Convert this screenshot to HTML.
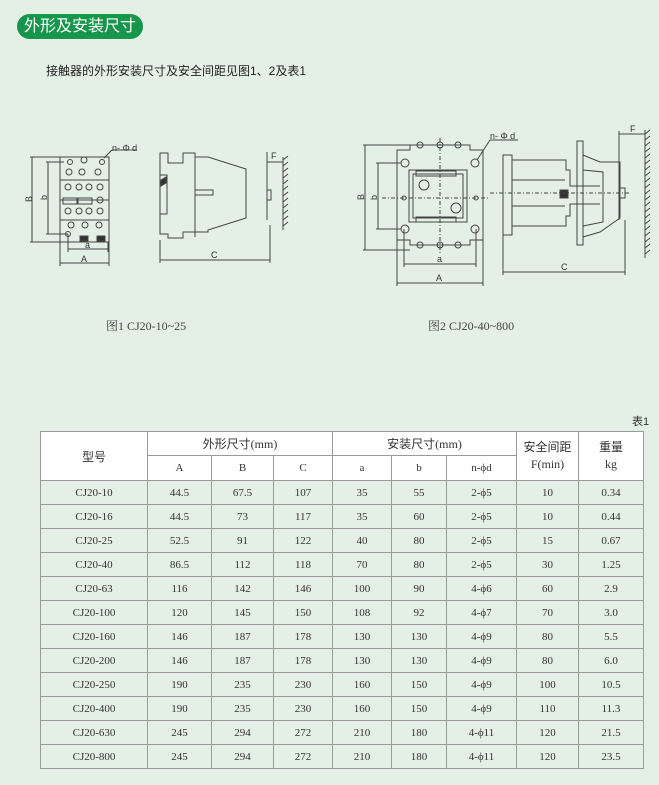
<!DOCTYPE html>
<html><head><meta charset="utf-8"><style>
*{margin:0;padding:0;box-sizing:border-box}
body{width:659px;height:785px;background:#e4f0e6;position:relative;overflow:hidden;font-family:"Liberation Sans","Noto Sans CJK SC",sans-serif;color:#333}
.pill{position:absolute;left:17px;top:14px;width:126px;height:25px;border-radius:13px;background:#16964a;color:#fff;font-size:16px;line-height:25px;text-align:center}
.intro{position:absolute;left:46px;top:62px;font-size:12px;color:#222}
.cap{position:absolute;top:317px;font-family:"Liberation Serif","Noto Serif CJK SC",serif;font-size:12px;color:#444}
svg{position:absolute;left:0;top:0}
table{position:absolute;left:40px;top:431px;border-collapse:collapse;font-family:"Liberation Serif","Noto Sans CJK SC",serif;font-size:11px;color:#333}
td{border:1px solid #9a9a9a;text-align:center;height:24px;padding:0}
.h td{background:#fff}
.t1{position:absolute;left:632px;top:413px;font-size:11px}
</style></head><body>
<div class="pill">外形及安装尺寸</div>
<div class="intro">接触器的外形安装尺寸及安全间距见图1、2及表1</div>
<svg width="659" height="400" viewBox="0 0 659 400" fill="none" stroke="#444" stroke-width="1" font-family="Liberation Sans" font-size="9">
<!-- Fig1 front -->
<rect x="60" y="157" width="49" height="85"/>
<line x1="60" y1="180" x2="109" y2="180"/><line x1="60" y1="200" x2="109" y2="200"/><line x1="60" y1="220" x2="109" y2="220"/>
<g>
<circle cx="70" cy="162" r="2.5"/><circle cx="84" cy="160" r="3"/><circle cx="102" cy="162" r="2.5"/>
<circle cx="69" cy="172" r="3"/><circle cx="82" cy="172" r="3"/><circle cx="98" cy="172" r="3"/>
<circle cx="68" cy="187" r="3"/><circle cx="79" cy="187" r="3"/><circle cx="89" cy="187" r="3"/><circle cx="100" cy="187" r="3"/>
<rect x="63" y="198" width="14" height="6"/><rect x="78" y="198" width="14" height="6"/><circle cx="100" cy="200" r="3"/>
<circle cx="68" cy="211" r="3"/><circle cx="79" cy="211" r="3"/><circle cx="89" cy="211" r="3"/><circle cx="100" cy="211" r="3"/>
<circle cx="71" cy="225" r="3"/><circle cx="85" cy="225" r="3"/><circle cx="99" cy="225" r="3"/>
<circle cx="68" cy="234" r="2.5"/>
</g>
<rect x="80" y="236" width="8" height="5" fill="#333"/><rect x="97" y="236" width="8" height="5" fill="#333"/>
<!-- dims fig1 -->
<line x1="32" y1="157" x2="32" y2="242"/><line x1="30" y1="157" x2="60" y2="157"/><line x1="30" y1="242" x2="60" y2="242"/>
<line x1="48" y1="162" x2="48" y2="234"/><line x1="46" y1="162" x2="64" y2="162"/><line x1="46" y1="234" x2="68" y2="234"/>
<line x1="68" y1="249" x2="108" y2="249"/><line x1="68" y1="234" x2="68" y2="252"/><line x1="108" y1="242" x2="108" y2="252"/>
<line x1="60" y1="263" x2="109" y2="263"/><line x1="60" y1="242" x2="60" y2="266"/><line x1="109" y1="242" x2="109" y2="266"/>
<line x1="104" y1="158" x2="112" y2="150"/><line x1="112" y1="150" x2="137" y2="150"/>
<g fill="#333" stroke="none"><text x="112" y="151">n- Φ d</text><text x="26" y="202" transform="rotate(-90 29 199)">B</text><text x="41" y="200" transform="rotate(-90 44 197)">b</text><text x="85" y="248">a</text><text x="81" y="262">A</text></g>
<!-- Fig1 side -->
<path d="M160 153 H168 V163 H183 V153 H195 V157 H208 L246 169 V218 L208 230 V232 H183 V238 H168 V234 H160 Z"/>
<rect x="160" y="175" width="7" height="39"/><path d="M161 180 L166 177 L166 183 L161 186Z" fill="#333"/>
<line x1="195" y1="157" x2="195" y2="237"/><rect x="195" y="190" width="18" height="5"/>
<rect x="267" y="190" width="4" height="10"/><line x1="267" y1="160" x2="267" y2="220"/>
<line x1="160" y1="260" x2="270" y2="260"/><line x1="160" y1="240" x2="160" y2="263"/><line x1="270" y1="225" x2="270" y2="263"/>
<line x1="283" y1="157" x2="283" y2="230"/>
<path d="M283 160 l5 -4 M283 166 l5 -4 M283 172 l5 -4 M283 178 l5 -4 M283 184 l5 -4 M283 190 l5 -4 M283 196 l5 -4 M283 202 l5 -4 M283 208 l5 -4 M283 214 l5 -4 M283 220 l5 -4 M283 226 l5 -4"/>
<line x1="267" y1="162" x2="283" y2="162"/><line x1="267" y1="152" x2="267" y2="165"/>
<g fill="#333" stroke="none"><text x="211" y="258">C</text><text x="271" y="159">F</text></g>
<!-- Fig2 front -->
<path d="M397 165 V150 H410 V145 H470 V150 H483 V240 H470 V245 H410 V240 H397 Z"/>
<rect x="409" y="170" width="58" height="52"/><rect x="413" y="174" width="50" height="44"/>
<g><circle cx="405" cy="163" r="4"/><circle cx="475" cy="163" r="4"/><circle cx="405" cy="229" r="4"/><circle cx="475" cy="229" r="4"/>
<circle cx="420" cy="145" r="3"/><circle cx="440" cy="145" r="3"/><circle cx="458" cy="145" r="3"/>
<circle cx="420" cy="245" r="3"/><circle cx="440" cy="245" r="3"/><circle cx="458" cy="245" r="3"/>
<circle cx="424" cy="185" r="5"/><circle cx="456" cy="208" r="5"/><circle cx="404" cy="198" r="2"/><circle cx="476" cy="198" r="2"/></g>
<rect x="416" y="171" width="40" height="5"/><rect x="416" y="217" width="40" height="5"/>
<line x1="440" y1="138" x2="440" y2="255" stroke-dasharray="4 2 1 2"/><line x1="382" y1="198" x2="490" y2="198" stroke-dasharray="4 2 1 2"/>
<!-- dims fig2 -->
<line x1="365" y1="145" x2="365" y2="250"/><line x1="363" y1="145" x2="410" y2="145"/><line x1="363" y1="250" x2="410" y2="250"/>
<line x1="378" y1="163" x2="378" y2="229"/><line x1="376" y1="163" x2="401" y2="163"/><line x1="376" y1="229" x2="401" y2="229"/>
<line x1="404" y1="264" x2="476" y2="264"/><line x1="404" y1="229" x2="404" y2="267"/><line x1="476" y1="229" x2="476" y2="267"/>
<line x1="397" y1="283" x2="483" y2="283"/><line x1="397" y1="240" x2="397" y2="286"/><line x1="483" y1="240" x2="483" y2="286"/>
<line x1="477" y1="160" x2="490" y2="140"/><line x1="490" y1="140" x2="518" y2="140"/>
<g fill="#333" stroke="none"><text x="490" y="139">n- Φ d</text><text x="358" y="200" transform="rotate(-90 361 197)">B</text><text x="371" y="200" transform="rotate(-90 374 197)">b</text><text x="437" y="262">a</text><text x="436" y="281">A</text></g>
<!-- Fig2 side -->
<rect x="503" y="155" width="9" height="80"/>
<path d="M512 160 H566 V170 H570 V186 H600 M512 180 H565 M512 206 H565 M512 226 H566 V216 H570 V204 H600"/>
<rect x="577" y="141" width="6" height="104"/>
<path d="M583 155 L600 162 H620 V218 L600 232 L583 237"/>
<path d="M583 170 L603 172 V222 L583 226"/>
<rect x="560" y="190" width="8" height="8" fill="#333"/>
<line x1="490" y1="193" x2="630" y2="193" stroke-dasharray="4 2 1 2"/>
<rect x="620" y="188" width="5" height="10"/><line x1="619" y1="131" x2="619" y2="220"/>
<line x1="645" y1="130" x2="645" y2="258"/>
<path d="M645 134 l5 -4 M645 140 l5 -4 M645 146 l5 -4 M645 152 l5 -4 M645 158 l5 -4 M645 164 l5 -4 M645 170 l5 -4 M645 176 l5 -4 M645 182 l5 -4 M645 188 l5 -4 M645 194 l5 -4 M645 200 l5 -4 M645 206 l5 -4 M645 212 l5 -4 M645 218 l5 -4 M645 224 l5 -4 M645 230 l5 -4 M645 236 l5 -4 M645 242 l5 -4 M645 248 l5 -4 M645 254 l5 -4"/>
<line x1="619" y1="134" x2="645" y2="134"/>
<line x1="503" y1="272" x2="625" y2="272"/><line x1="503" y1="235" x2="503" y2="275"/><line x1="625" y1="220" x2="625" y2="275"/>
<g fill="#333" stroke="none"><text x="561" y="270">C</text><text x="630" y="132">F</text></g>
</svg>
<div class="cap" style="left:106px">图1 CJ20-10~25</div>
<div class="cap" style="left:428px">图2 CJ20-40~800</div>
<div class="t1">表1</div>
<table>
<colgroup><col style="width:107px"><col style="width:64px"><col style="width:62px"><col style="width:59px"><col style="width:59px"><col style="width:55px"><col style="width:70px"><col style="width:62px"><col style="width:65px"></colgroup>
<tr class="h"><td rowspan="2" style="font-size:12px;font-family:'Liberation Sans','Noto Sans CJK SC',sans-serif">型号</td><td colspan="3" style="height:22px;font-size:12px">外形尺寸(mm)</td><td colspan="3" style="font-size:12px">安装尺寸(mm)</td><td rowspan="2" style="font-size:12px;line-height:17px">安全间距<br>F(min)</td><td rowspan="2" style="font-size:12px;line-height:17px">重量<br>kg</td></tr>
<tr class="h"><td style="height:25px">A</td><td>B</td><td>C</td><td>a</td><td>b</td><td>n-ϕd</td></tr>
<tr><td>CJ20-10</td><td>44.5</td><td>67.5</td><td>107</td><td>35</td><td>55</td><td>2-ϕ5</td><td>10</td><td>0.34</td></tr>
<tr><td>CJ20-16</td><td>44.5</td><td>73</td><td>117</td><td>35</td><td>60</td><td>2-ϕ5</td><td>10</td><td>0.44</td></tr>
<tr><td>CJ20-25</td><td>52.5</td><td>91</td><td>122</td><td>40</td><td>80</td><td>2-ϕ5</td><td>15</td><td>0.67</td></tr>
<tr><td>CJ20-40</td><td>86.5</td><td>112</td><td>118</td><td>70</td><td>80</td><td>2-ϕ5</td><td>30</td><td>1.25</td></tr>
<tr><td>CJ20-63</td><td>116</td><td>142</td><td>146</td><td>100</td><td>90</td><td>4-ϕ6</td><td>60</td><td>2.9</td></tr>
<tr><td>CJ20-100</td><td>120</td><td>145</td><td>150</td><td>108</td><td>92</td><td>4-ϕ7</td><td>70</td><td>3.0</td></tr>
<tr><td>CJ20-160</td><td>146</td><td>187</td><td>178</td><td>130</td><td>130</td><td>4-ϕ9</td><td>80</td><td>5.5</td></tr>
<tr><td>CJ20-200</td><td>146</td><td>187</td><td>178</td><td>130</td><td>130</td><td>4-ϕ9</td><td>80</td><td>6.0</td></tr>
<tr><td>CJ20-250</td><td>190</td><td>235</td><td>230</td><td>160</td><td>150</td><td>4-ϕ9</td><td>100</td><td>10.5</td></tr>
<tr><td>CJ20-400</td><td>190</td><td>235</td><td>230</td><td>160</td><td>150</td><td>4-ϕ9</td><td>110</td><td>11.3</td></tr>
<tr><td>CJ20-630</td><td>245</td><td>294</td><td>272</td><td>210</td><td>180</td><td>4-ϕ11</td><td>120</td><td>21.5</td></tr>
<tr><td>CJ20-800</td><td>245</td><td>294</td><td>272</td><td>210</td><td>180</td><td>4-ϕ11</td><td>120</td><td>23.5</td></tr>
</table>
</body></html>
